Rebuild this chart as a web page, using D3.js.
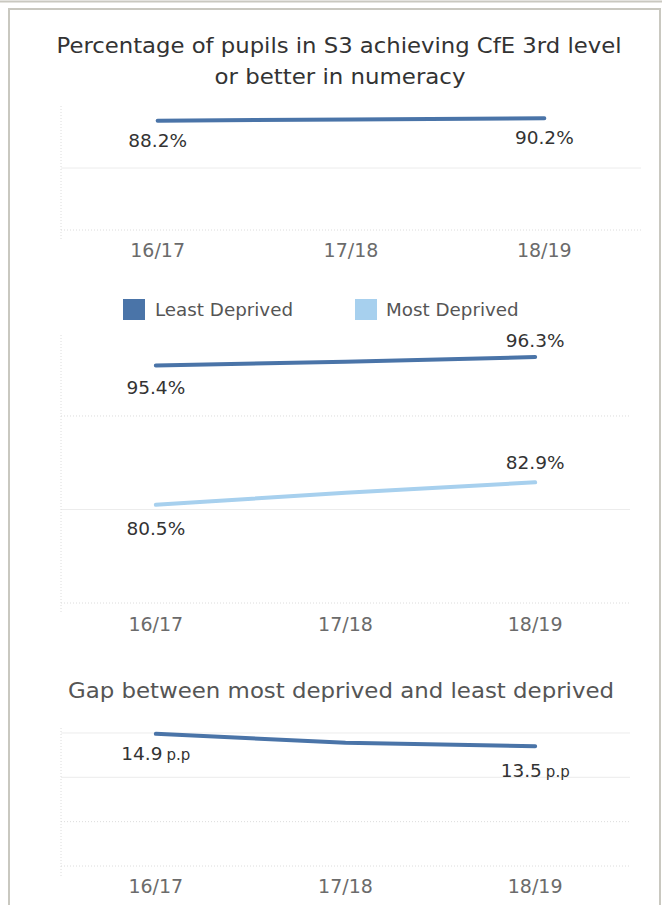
<!DOCTYPE html>
<html lang="en">
<head>
    <meta charset="UTF-8">
    <title>S3 numeracy</title>
    <script src="https://d3js.org/d3.v7.min.js"></script>
    <style>
        body {
            margin: 0;
            background: white;
        }
        svg {
            display: block;
            font-family: "DejaVu Sans", sans-serif;
        }
        .grid {
            stroke: #ececec;
            stroke-width: 1;
        }
        .grid.dotted, .axis-y {
            stroke: #dcdcdc;
            stroke-dasharray: 1 2;
        }
        .tick-label {
            fill: #6b6b6b;
            font-size: 19px;
            text-anchor: middle;
        }
        .value-label {
            fill: #333;
            font-size: 18.5px;
            text-anchor: middle;
        }
        .title {
            fill: #333;
            font-size: 21px;
            text-anchor: middle;
        }
    </style>
</head>
<body>
    <div id="chart"></div>
    <script>
        const WIDTH = 662
        const HEIGHT = 905

        // data
        const years = ['16/17', '17/18', '18/19']
        const allPupils = [88.2, 89.1, 90.2]
        const leastDeprived = [95.4, 95.8, 96.3]
        const mostDeprived = [80.5, 81.8, 82.9]
        const gap = [14.9, 13.9, 13.5]
        const legendLabels = ['Least Deprived', 'Most Deprived']

        const DARK = '#4a74a8'
        const LIGHT = '#a7d0ee'

        const svg = d3.select('#chart')
            .append('svg')
            .attr('width', WIDTH)
            .attr('height', HEIGHT)

        // frame
        svg.append('line')
            .attr('x1', 0).attr('x2', WIDTH).attr('y1', 1.5).attr('y2', 1.5)
            .attr('stroke', '#c9c8c0').attr('stroke-width', 2)
        svg.append('rect')
            .attr('x', 9).attr('y', 9).attr('width', 651).attr('height', HEIGHT)
            .attr('fill', 'none').attr('stroke', '#c9c8c0').attr('stroke-width', 2)

        // draws one small line panel
        function panel({ x0, x1, yRange, yDomain, grid, dotted, series, tickY, fmt }) {
            const x = d3.scaleBand().domain(years).range([x0, x1])
            const y = d3.scaleLinear().domain(yDomain).range(yRange)
            const cx = d => x(d) + x.bandwidth() / 2
            const g = svg.append('g')

            g.selectAll('.grid')
                .data(grid).enter()
                .append('line')
                .attr('class', d => dotted.includes(d) ? 'grid dotted' : 'grid')
                .attr('x1', x0).attr('x2', x1)
                .attr('y1', d => y(d)).attr('y2', d => y(d))

            g.append('line').attr('class', 'axis-y')
                .attr('x1', x0).attr('x2', x0)
                .attr('y1', yRange[1]).attr('y2', yRange[0] + 10)

            const line = d3.line().x((d, i) => cx(years[i])).y(d => y(d))

            series.forEach(s => {
                g.append('path')
                    .attr('d', line(s.values))
                    .attr('fill', 'none')
                    .attr('stroke', s.color)
                    .attr('stroke-width', 4)
                    .attr('stroke-linecap', 'round')

                // only first and last get a label
                ;[0, s.values.length - 1].forEach((i, k) => {
                    const t = g.append('text').attr('class', 'value-label')
                        .attr('x', cx(years[i]))
                        .attr('y', y(s.values[i]) + s.offsets[k])
                    fmt(t, s.values[i])
                })
            })

            g.selectAll('.tick-label')
                .data(years).enter()
                .append('text').attr('class', 'tick-label')
                .attr('x', d => cx(d))
                .attr('y', tickY)
                .text(d => d)
        }

        const pct = (t, v) => t.text(v.toFixed(1) + '%')
        const pp = (t, v) => {
            t.append('tspan').text(v.toFixed(1))
            t.append('tspan').attr('font-size', 15).attr('dx', 4).text('p.p')
        }

        // titles are a little wider in the original, stretch to fit
        const title = (x, y, w, txt) => svg.append('text').attr('class', 'title')
            .attr('x', x).attr('y', y)
            .attr('textLength', w).attr('lengthAdjust', 'spacingAndGlyphs')
            .text(txt)

        // chart 1
        title(339, 53, 565, 'Percentage of pupils in S3 achieving CfE 3rd level')
        title(340, 84, 251, 'or better in numeracy')

        panel({
            x0: 61, x1: 641,
            yRange: [230, 106], yDomain: [0, 100],
            grid: [0, 50], dotted: [0],
            series: [{ values: allPupils, color: DARK, offsets: [26, 26] }],
            tickY: 257, fmt: pct
        })

        // legend
        const legend = svg.append('g')
        legend.selectAll('rect')
            .data(legendLabels).enter()
            .append('rect')
            .attr('x', (d, i) => [123, 355][i])
            .attr('y', 299)
            .attr('width', 22).attr('height', 21)
            .attr('fill', (d, i) => [DARK, LIGHT][i])
        legend.selectAll('text')
            .data(legendLabels).enter()
            .append('text')
            .attr('x', (d, i) => [155, 386][i])
            .attr('y', 316)
            .attr('fill', '#555')
            .attr('font-size', 18.3)
            .text(d => d)

        // chart 2
        panel({
            x0: 61, x1: 630,
            yRange: [603, 335], yDomain: [70, 98.66],
            grid: [70, 80, 90], dotted: [70, 90],
            series: [
                { values: leastDeprived, color: DARK, offsets: [29, -10] },
                { values: mostDeprived, color: LIGHT, offsets: [30, -13] }
            ],
            tickY: 631, fmt: pct
        })

        // chart 3
        title(341, 698, 546, 'Gap between most deprived and least deprived')
            .style('fill', '#555')

        panel({
            x0: 61, x1: 630,
            yRange: [866, 728], yDomain: [0, 15.56],
            grid: [0, 5, 10, 15], dotted: [0, 5],
            series: [{ values: gap, color: DARK, offsets: [26, 31] }],
            tickY: 893, fmt: pp
        })
    </script>
</body>
</html>
